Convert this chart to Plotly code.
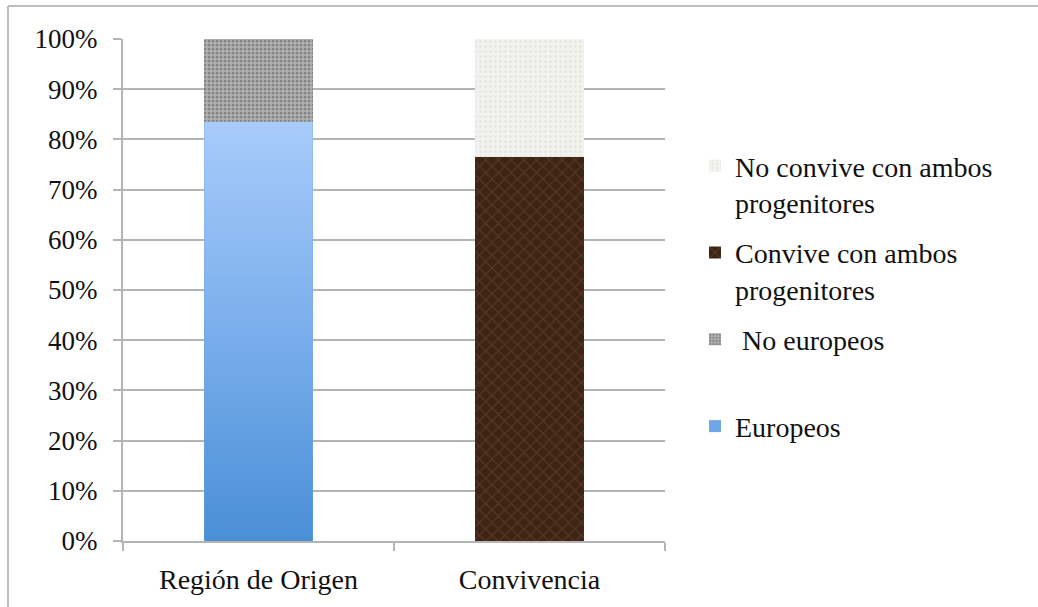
import plotly.graph_objects as go

# Categories and stacked shares (percent of each group)
categories = ["Región de Origen", "Convivencia"]
europeos = 83.5
no_europeos = 16.5
convive = 76.5
no_convive = 23.5

y_ticks = list(range(0, 101, 10))
y_tick_labels = [f"{v}%" for v in y_ticks]

W, H = 1038, 607
ML, MR, MT, MB = 123, 373, 39, 66
PW, PH = W - ML - MR, H - MT - MB
BAR_WIDTH = 0.4
GRID = "#b4b4b4"
FONT = "Times New Roman, Liberation Serif, DejaVu Serif, serif"

fig = go.Figure()

fig.add_trace(go.Bar(
    name="Europeos<br>&nbsp;", legendgroup="eu", legendrank=4,
    x=[categories[0]], y=[europeos], width=BAR_WIDTH,
    marker=dict(color="#6ea6e8", line=dict(width=0)),
))
fig.add_trace(go.Bar(
    name=" No europeos<br>&nbsp;", legendgroup="noeu", legendrank=3,
    x=[categories[0]], y=[no_europeos], width=BAR_WIDTH,
    marker=dict(color="#a4a4a4", line=dict(width=0),
                pattern=dict(shape=".", fgcolor="#555555", bgcolor="#b2b2b2",
                             size=4, solidity=0.45)),
))
fig.add_trace(go.Bar(
    name="Convive con ambos<br>progenitores", legendgroup="conv", legendrank=2,
    x=[categories[1]], y=[convive], width=BAR_WIDTH,
    marker=dict(color="#3e2415", line=dict(width=0),
                pattern=dict(shape="x", fgcolor="#6e4e35", bgcolor="#3e2415",
                             size=9, solidity=0.25)),
))
fig.add_trace(go.Bar(
    name="No convive con ambos<br>progenitores", legendgroup="noconv", legendrank=1,
    x=[categories[1]], y=[no_convive], width=BAR_WIDTH,
    marker=dict(color="#efefec", line=dict(width=0),
                pattern=dict(shape=".", fgcolor="#dadad6", bgcolor="#f2f2ef",
                             size=5, solidity=0.3)),
))

# Vertical blue gradient laid over the "Europeos" bar, on a hidden linear twin axis
i = 0
fig.add_trace(go.Scatter(
    x=[i - BAR_WIDTH / 2, i + BAR_WIDTH / 2, i + BAR_WIDTH / 2, i - BAR_WIDTH / 2, i - BAR_WIDTH / 2],
    y=[0, 0, europeos, europeos, 0],
    xaxis="x2", mode="lines", line=dict(width=0), fill="toself",
    fillgradient=dict(type="vertical",
                      colorscale=[[0, "#4a8fd6"], [0.5, "#7aaeec"], [1, "#a8cbfa"]]),
    showlegend=False, hoverinfo="skip", legendgroup="eu", legendrank=4,
))

fig.update_layout(
    width=W, height=H,
    margin=dict(l=ML, r=MR, t=MT, b=MB),
    paper_bgcolor="white", plot_bgcolor="white",
    barmode="stack", bargap=0.6,
    font=dict(family=FONT, size=27, color="#111111"),
    showlegend=True,
    legend=dict(
        x=(695 - ML) / PW, xanchor="left",
        y=(MT + PH - 141) / PH, yanchor="top",
        font=dict(family=FONT, size=28, color="#111111"),
        valign="top", traceorder="grouped", tracegroupgap=11,
        bgcolor="rgba(0,0,0,0)",
    ),
    xaxis=dict(
        type="category", categoryarray=categories, categoryorder="array",
        range=[-0.5, 1.5], tickson="boundaries",
        ticks="outside", ticklen=8, tickcolor=GRID, tickwidth=2,
        showline=True, linecolor=GRID, linewidth=2,
        showgrid=False, zeroline=False, ticklabelstandoff=12,
        tickfont=dict(family=FONT, size=28),
    ),
    xaxis2=dict(
        overlaying="x", range=[-0.5, 1.5], visible=False,
        showgrid=False, zeroline=False,
    ),
    yaxis=dict(
        range=[0, 100], tickmode="array", tickvals=y_ticks, ticktext=y_tick_labels,
        ticks="outside", ticklen=8, tickcolor=GRID, tickwidth=2,
        showline=True, linecolor=GRID, linewidth=2,
        showgrid=True, gridcolor=GRID, gridwidth=2, zeroline=False,
        ticklabelstandoff=10,
        tickfont=dict(family=FONT, size=27),
    ),
)

# Chart frame: left and top border lines
def px_x(p):
    return (p - ML) / PW

def px_y(p):
    return (MT + PH - p) / PH

fig.add_shape(type="line", xref="paper", yref="paper",
              x0=px_x(8), x1=px_x(8), y0=px_y(6), y1=px_y(H),
              line=dict(color="#bdbdbd", width=2))
fig.add_shape(type="line", xref="paper", yref="paper",
              x0=px_x(8), x1=px_x(W), y0=px_y(6), y1=px_y(6),
              line=dict(color="#bdbdbd", width=2))

fig.write_html("out.html")
